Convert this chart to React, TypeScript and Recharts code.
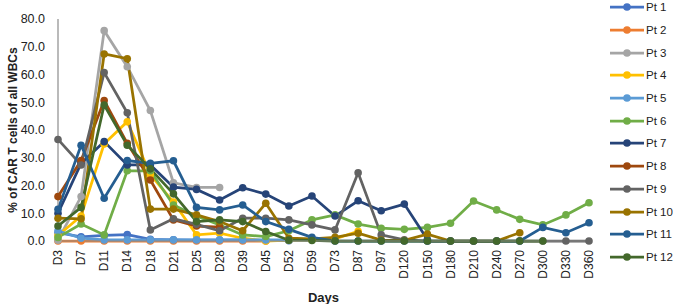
import { Label, Legend, Line, LineChart, XAxis, YAxis } from "recharts";

const days = ["D3", "D7", "D11", "D14", "D18", "D21", "D25", "D28", "D39", "D45", "D52", "D59", "D73", "D87", "D97", "D120", "D150", "D180", "D210", "D240", "D270", "D300", "D330", "D360"];

const pt1 = [3, 1.5, 2, 2.3, 0.6, 0.4, 0.3, 0.3, 0.4, 0.2, 0.1];
const pt2 = [0, 0, 0, 0, 0, 0, 0, 0, 0, 0];
const pt3 = [0.3, 16, 75.8, 62.8, 47, 21, 19.3, 19.3];
const pt4 = [2, 9, 35, 43, 24, 14, 2.2, 2.8, 1, 0, 0.3, 0.5, 0.8, 3.5];
const pt5 = [3.7, 1, 0.4, 0.4, 0.4, 0.4, 0.4, 0.4, 0.4, 0.4, 0.4];
const pt6 = [1.3, 6.1, 2.2, 25.3, 25.3, 13, 9, 5.8, 2.2, 1.6, 3.7, 7.6, 9.4, 6.1, 4.6, 4.2, 4.9, 6.4, 14.4, 11.2, 7.8, 5.8, 9.4, 13.8];
const pt7 = [10, 28, 35.8, 27.4, 27.4, 19.4, 18.6, 14.8, 19.2, 16.9, 12.6, 16.2, 9, 14.5, 10.9, 13.3, 0.5];
const pt8 = [16, 29, 50.6, 35.2, 22, 7.6, 5.4, 5];
const pt9 = [36.6, 27.4, 60.7, 46.2, 4, 8, 6, 3.7, 8.2, 8.2, 7.6, 5.8, 4, 24.6, 2.2, 0.4, 0, 0, 0, 0, 0, 0, 0, 0];
const pt10 = [8.2, 8, 67.4, 65.7, 11.5, 11.5, 9.4, 7, 3.7, 13.6, 1, 0.8, 1.3, 2.8, 0.3, 0.2, 2.5, 0, 0, 0, 3];
const pt11 = [11.4, 34.5, 15.4, 29, 28, 28.9, 12.1, 11.2, 13, 7, 4.2, 1.3, 0, 0, 0, 0, 0, 0, 0, 0, 0, 4.9, 3, 6.6];
const pt12 = [5.4, 12.1, 49, 34.5, 26, 17, 7, 7.6, 7, 3.4, 0.3, 0.2, 0, 0, 0, 0, 0, 0, 0, 0, 0, 0];

const seriesNames = ["Pt 1", "Pt 2", "Pt 3", "Pt 4", "Pt 5", "Pt 6", "Pt 7", "Pt 8", "Pt 9", "Pt 10", "Pt 11", "Pt 12"];
const seriesValues = [pt1, pt2, pt3, pt4, pt5, pt6, pt7, pt8, pt9, pt10, pt11, pt12];
const seriesColors = ["#4472C4", "#ED7D31", "#A5A5A5", "#FFC000", "#5B9BD5", "#70AD47", "#264478", "#9E480E", "#636363", "#997300", "#255E91", "#43682B"];
const yTicks = [0, 10, 20, 30, 40, 50, 60, 70, 80];

const font = "'Liberation Sans', Arial, sans-serif";

const data = days.map((day, i) => {
  const row: Record<string, string | number | null> = { day };
  seriesNames.forEach((name, s) => {
    const v = seriesValues[s][i];
    row[name] = v === undefined ? null : v;
  });
  return row;
});

function DayTick({ x, y, payload }: any) {
  return (
    <text x={x} y={y} transform={`rotate(-90 ${x} ${y})`} textAnchor="end" dy="0.35em" fontSize={12} fill="#222" fontFamily={font}>
      {payload.value}
    </text>
  );
}

function PtLegend() {
  return (
    <div style={{ fontFamily: font, fontSize: 11.5, color: "#222", whiteSpace: "nowrap" }}>
      {seriesNames.map((name, s) => (
        <div key={name} style={{ height: 22.7, display: "flex", alignItems: "center" }}>
          <svg width={34} height={10} style={{ flex: "none" }}>
            <line x1={0} x2={34} y1={5} y2={5} stroke={seriesColors[s]} strokeWidth={2.75} />
            <circle cx={17} cy={5} r={3.8} fill={seriesColors[s]} />
          </svg>
          <span style={{ marginLeft: 2 }}>{name}</span>
        </div>
      ))}
    </div>
  );
}

export default function App() {
  return (
    <div style={{ position: "absolute", left: 0, top: 0 }}>
      <LineChart width={673} height={304} data={data} margin={{ top: 19, right: 84, bottom: 0, left: 0 }}>
        <XAxis
          dataKey="day"
          height={63}
          interval={0}
          tick={<DayTick />}
          tickLine={false}
          tickSize={4}
          tickMargin={5}
          axisLine={{ stroke: "#8c8c8c", strokeWidth: 1.2 }}
        >
          <Label value="Days" position="insideBottom" offset={2} fontWeight="bold" fontSize={13} fill="#222" fontFamily={font} />
        </XAxis>
        <YAxis
          width={58}
          domain={[0, 80]}
          ticks={yTicks}
          interval={0}
          tickFormatter={(v: number) => v.toFixed(1)}
          tickLine={false}
          tickSize={6}
          tickMargin={7}
          axisLine={{ stroke: "#8c8c8c", strokeWidth: 1.2 }}
          tick={{ fontSize: 12.5, fill: "#222", fontFamily: font }}
        >
          <Label value="% of CAR T cells of all WBCs" angle={-90} position="center" dx={-16} fontWeight="bold" fontSize={12} fill="#222" fontFamily={font} />
        </YAxis>
        <Legend layout="vertical" align="center" verticalAlign="middle" content={<PtLegend />} wrapperStyle={{ left: 610, top: -4, width: 63 }} />
        {seriesNames.map((name, s) => (
          <Line
            key={name}
            type="linear"
            dataKey={name}
            stroke={seriesColors[s]}
            strokeWidth={2.75}
            dot={{ r: 3.8, fill: seriesColors[s], stroke: seriesColors[s], strokeWidth: 0 }}
            activeDot={false}
            isAnimationActive={false}
          />
        ))}
      </LineChart>
    </div>
  );
}
